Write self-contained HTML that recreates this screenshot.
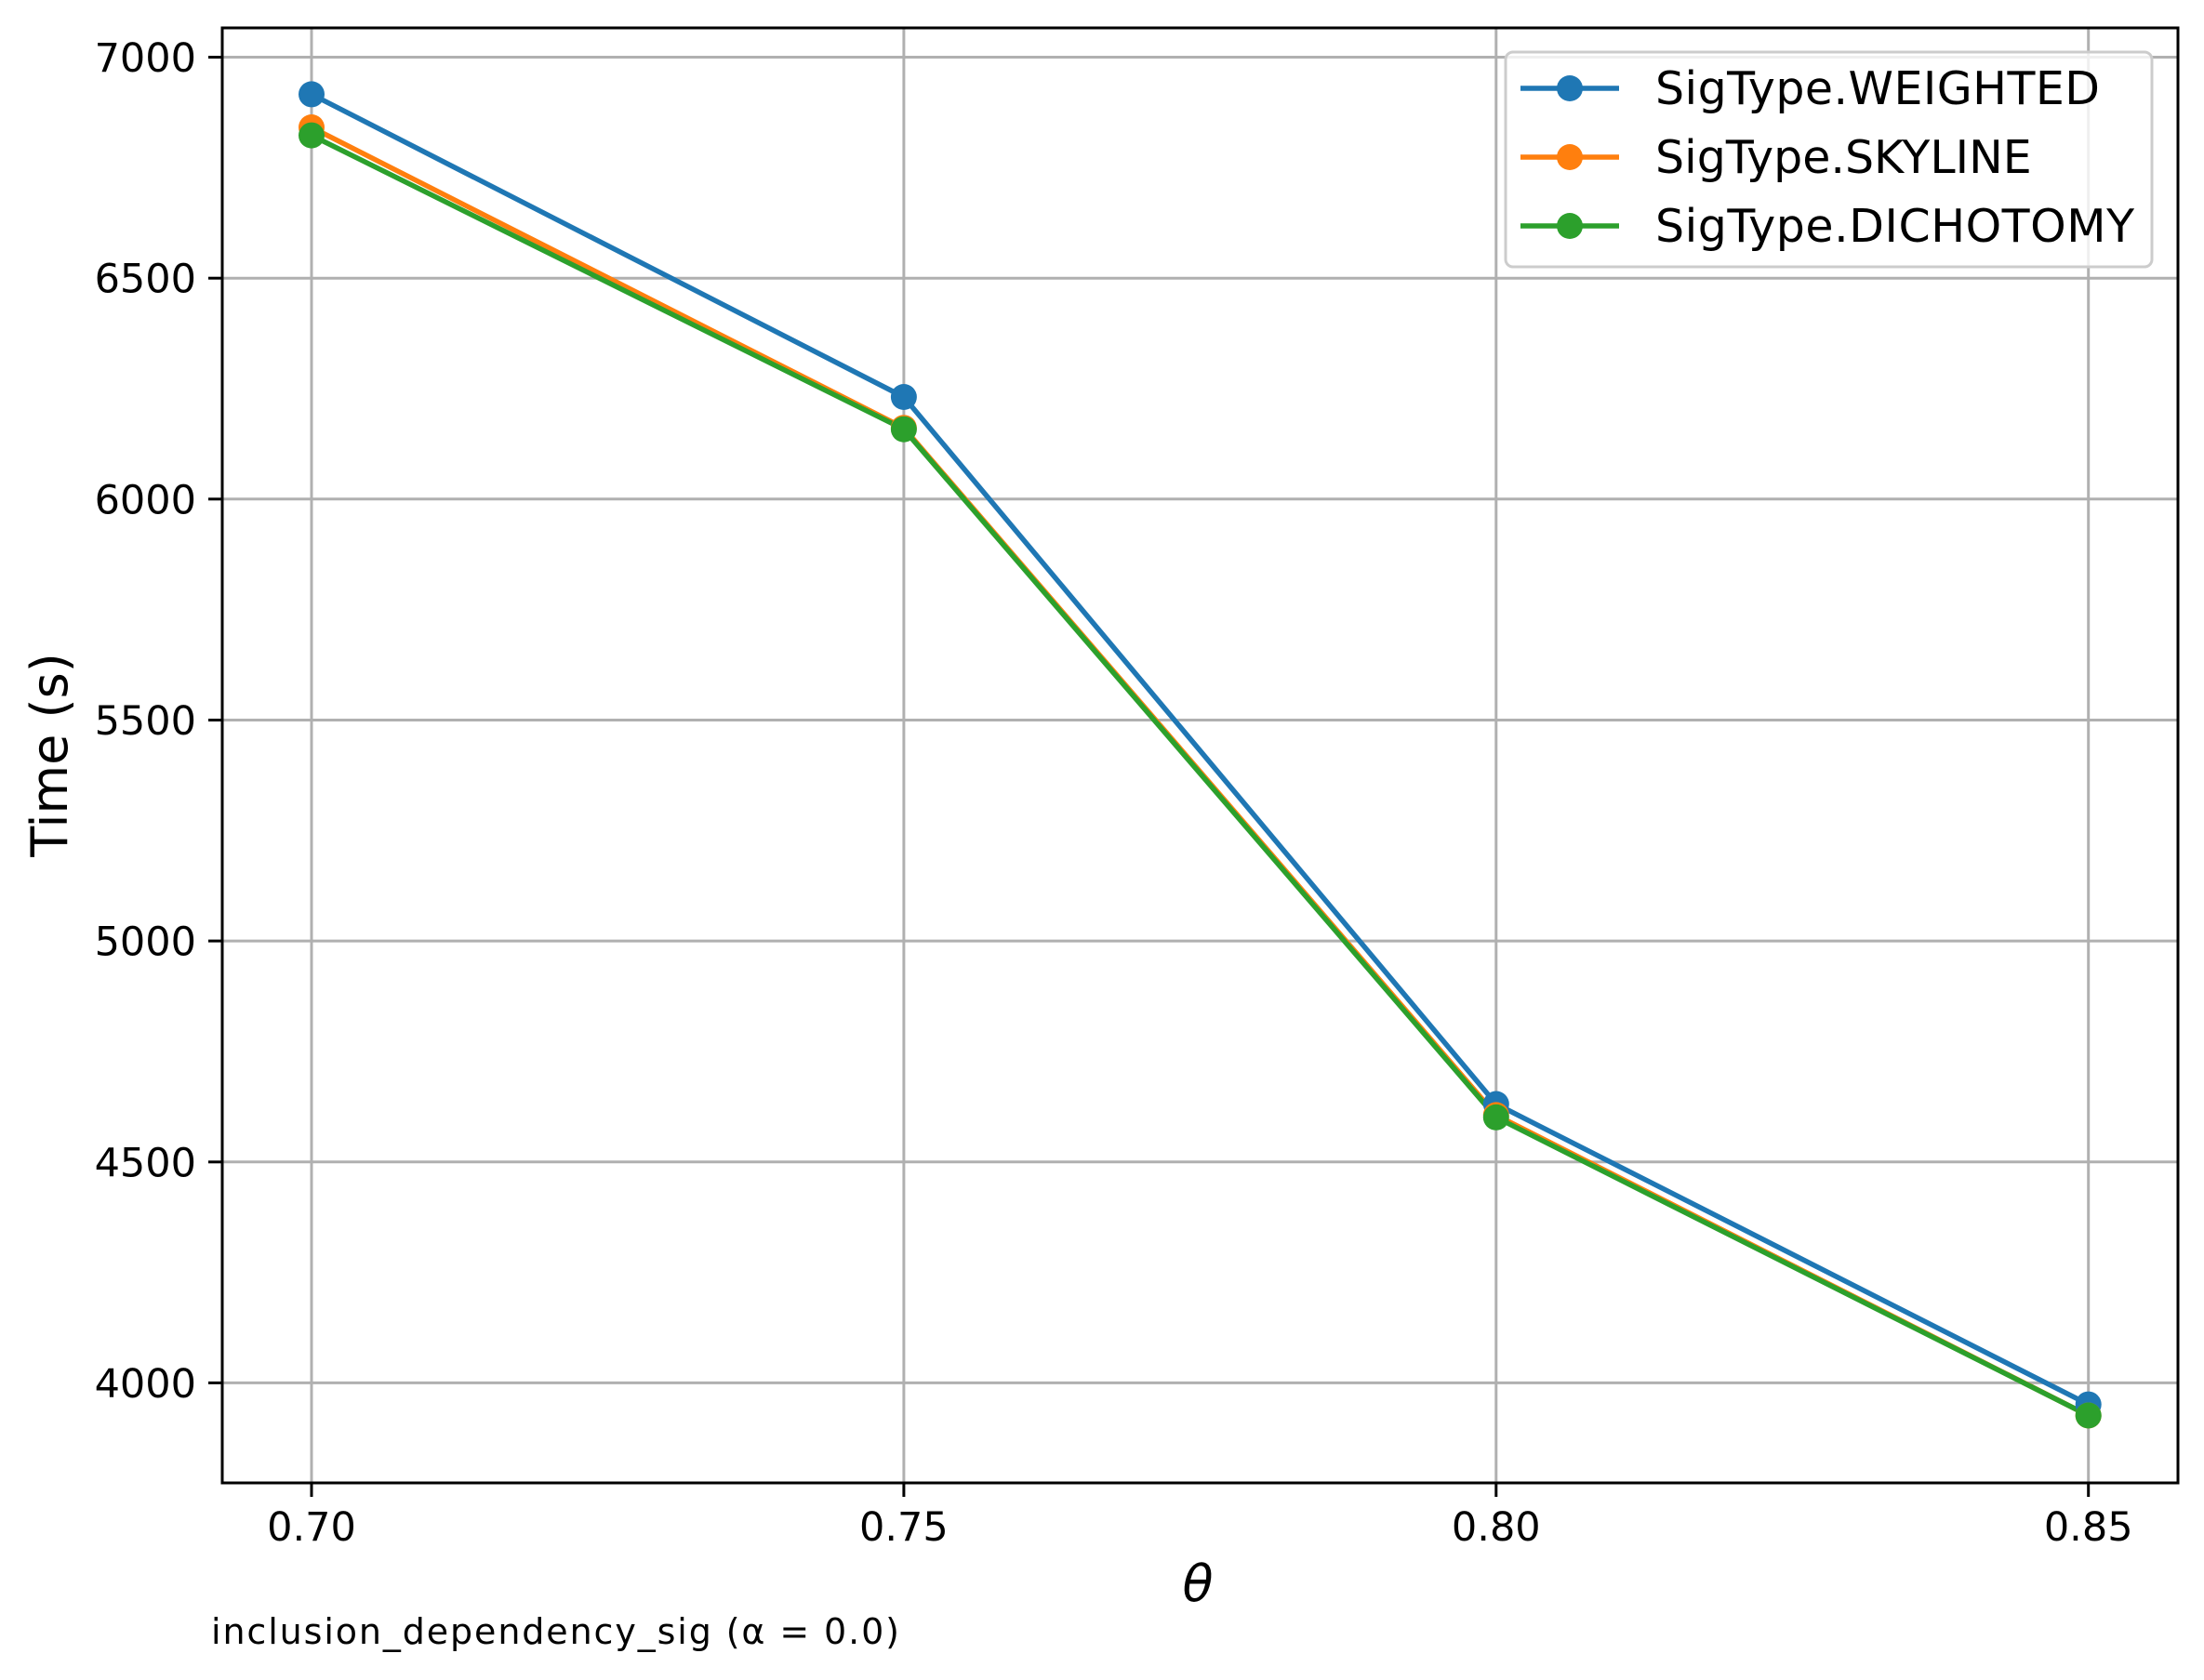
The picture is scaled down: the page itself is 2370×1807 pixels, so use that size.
<!DOCTYPE html>
<html><head><style>body{margin:0;background:#fff}svg{display:block}</style></head><body>
<svg width="2370" height="1807" viewBox="0 0 2370 1807" xmlns="http://www.w3.org/2000/svg" font-family="DejaVu Sans, Liberation Sans, sans-serif">
<rect width="2370" height="1807" fill="#fff"/>
<g stroke="#b0b0b0" stroke-width="3">
<line x1="335" y1="30" x2="335" y2="1595"/>
<line x1="971.9" y1="30" x2="971.9" y2="1595"/>
<line x1="1608.8" y1="30" x2="1608.8" y2="1595"/>
<line x1="2245.7" y1="30" x2="2245.7" y2="1595"/>
<line x1="239" y1="61.5" x2="2342" y2="61.5"/>
<line x1="239" y1="299.2" x2="2342" y2="299.2"/>
<line x1="239" y1="536.8" x2="2342" y2="536.8"/>
<line x1="239" y1="774.5" x2="2342" y2="774.5"/>
<line x1="239" y1="1012.1" x2="2342" y2="1012.1"/>
<line x1="239" y1="1249.8" x2="2342" y2="1249.8"/>
<line x1="239" y1="1487.4" x2="2342" y2="1487.4"/>
</g>
<g fill="none" stroke-width="5.5" stroke-linejoin="round">
<polyline stroke="#1f77b4" points="335,101.4 971.9,427 1608.8,1187.5 2245.7,1510.6"/>
<polyline stroke="#ff7f0e" points="335,137 971.9,460.2 1608.8,1199.4 2245.7,1522.5"/>
<polyline stroke="#2ca02c" points="335,145.6 971.9,461.7 1608.8,1201.8 2245.7,1522.5"/>
</g>
<g fill="#1f77b4"><circle cx="335" cy="101.4" r="14"/><circle cx="971.9" cy="427" r="14"/><circle cx="1608.8" cy="1187.5" r="14"/><circle cx="2245.7" cy="1510.6" r="14"/></g>
<g fill="#ff7f0e"><circle cx="335" cy="137" r="14"/><circle cx="971.9" cy="460.2" r="14"/><circle cx="1608.8" cy="1199.4" r="14"/><circle cx="2245.7" cy="1522.5" r="14"/></g>
<g fill="#2ca02c"><circle cx="335" cy="145.6" r="14"/><circle cx="971.9" cy="461.7" r="14"/><circle cx="1608.8" cy="1201.8" r="14"/><circle cx="2245.7" cy="1522.5" r="14"/></g>
<rect x="239" y="30" width="2103" height="1565" fill="none" stroke="#000" stroke-width="3"/>
<g stroke="#000" stroke-width="3">
<line x1="335" y1="1595" x2="335" y2="1610"/><line x1="971.9" y1="1595" x2="971.9" y2="1610"/><line x1="1608.8" y1="1595" x2="1608.8" y2="1610"/><line x1="2245.7" y1="1595" x2="2245.7" y2="1610"/>
<line x1="224" y1="61.5" x2="239" y2="61.5"/><line x1="224" y1="299.2" x2="239" y2="299.2"/><line x1="224" y1="536.8" x2="239" y2="536.8"/><line x1="224" y1="774.5" x2="239" y2="774.5"/><line x1="224" y1="1012.1" x2="239" y2="1012.1"/><line x1="224" y1="1249.8" x2="239" y2="1249.8"/><line x1="224" y1="1487.4" x2="239" y2="1487.4"/>
</g>
<g font-size="43" fill="#000" text-anchor="middle">
<text x="335" y="1657">0.70</text><text x="971.9" y="1657">0.75</text><text x="1608.8" y="1657">0.80</text><text x="2245.7" y="1657">0.85</text>
</g>
<g font-size="43" fill="#000" text-anchor="end">
<text x="211" y="77">7000</text><text x="211" y="314.7">6500</text><text x="211" y="552.3">6000</text><text x="211" y="790">5500</text><text x="211" y="1027.6">5000</text><text x="211" y="1265.3">4500</text><text x="211" y="1502.9">4000</text>
</g>
<text x="1288" y="1722" font-size="54" font-style="italic" text-anchor="middle">θ</text>
<text transform="translate(72,812) rotate(-90)" font-size="54" text-anchor="middle">Time (s)</text>
<text x="227" y="1768" font-size="38" textLength="740">inclusion_dependency_sig (α = 0.0)</text>
<rect x="1619" y="56" width="695" height="231" rx="8" fill="#fff" fill-opacity="0.8" stroke="#ccc" stroke-width="3"/>
<g stroke-width="5.5">
<line x1="1635" y1="95" x2="1741" y2="95" stroke="#1f77b4"/><circle cx="1688" cy="95" r="14" fill="#1f77b4"/>
<line x1="1635" y1="169" x2="1741" y2="169" stroke="#ff7f0e"/><circle cx="1688" cy="169" r="14" fill="#ff7f0e"/>
<line x1="1635" y1="243" x2="1741" y2="243" stroke="#2ca02c"/><circle cx="1688" cy="243" r="14" fill="#2ca02c"/>
</g>
<g font-size="49" fill="#000">
<text x="1780" y="112" textLength="478">SigType.WEIGHTED</text>
<text x="1780" y="186">SigType.SKYLINE</text>
<text x="1780" y="260" textLength="515">SigType.DICHOTOMY</text>
</g>
</svg>
</body></html>
